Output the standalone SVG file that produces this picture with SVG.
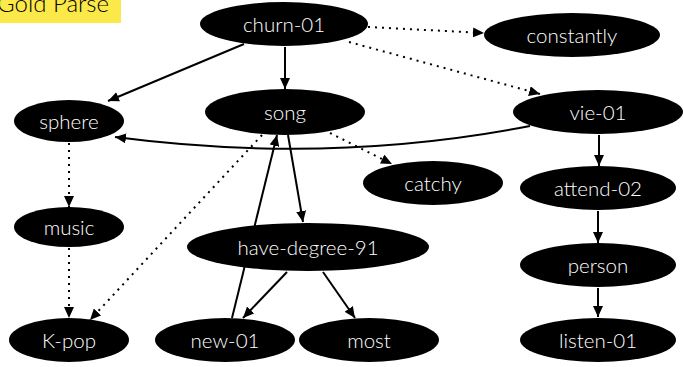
<svg xmlns="http://www.w3.org/2000/svg" width="684" height="367" viewBox="0 0 684 367">
<defs>
<marker id="ah" markerUnits="userSpaceOnUse" markerWidth="12" markerHeight="10" refX="11" refY="5" orient="auto">
<path d="M0,0 L11,5 L0,10 z" fill="#000"/>
</marker>
<style>
.n ellipse{fill:#000}
.n text{fill:#fff;font-family:Lato,"Open Sans",sans-serif;font-weight:300;font-size:20.5px;text-anchor:middle;dominant-baseline:central}
.e path{fill:none;stroke:#000;stroke-width:2;marker-end:url(#ah)}
.e .d{stroke-dasharray:2 5}
</style>
</defs>
<rect x="0" y="0" width="121" height="23" fill="#fbe94a"/>
<text x="-3" y="12" font-family="Lato,sans-serif" font-weight="300" font-size="24" fill="#000">Gold Parse</text>
<g class="e" id="connectors">
<path d="M244,44 L108,101"/>
<path d="M285,47 L285,89"/>
<path class="d" d="M368,27 L484,33"/>
<path class="d" d="M349,42 L540,94"/>
<path d="M530,126 Q330,165 115,137"/>
<path class="d" d="M330,133 L392,164"/>
<path class="d" d="M262,135 L90,320"/>
<path d="M288,135 L303,222"/>
<path d="M232,318 L277,135"/>
<path d="M287,272 L243,318"/>
<path d="M323,272 L355,318"/>
<path class="d" d="M69,143 L69,207"/>
<path class="d" d="M69,248 L69,318"/>
<path d="M599,135 L599,166"/>
<path d="M598,211 L598,243"/>
<path d="M598,288 L598,317"/>
</g>
<g class="n" id="churn-01"><ellipse cx="284" cy="24" rx="84" ry="22"/><text x="284" y="24">churn-01</text></g>
<g class="n" id="constantly"><ellipse cx="572" cy="35" rx="88" ry="22"/><text x="572" y="35">constantly</text></g>
<g class="n" id="song"><ellipse cx="285" cy="112" rx="80" ry="23"/><text x="285" y="112">song</text></g>
<g class="n" id="sphere"><ellipse cx="69" cy="121" rx="55" ry="21"/><text x="69" y="121">sphere</text></g>
<g class="n" id="vie-01"><ellipse cx="598" cy="112" rx="85" ry="22"/><text x="598" y="112">vie-01</text></g>
<g class="n" id="catchy"><ellipse cx="433" cy="183" rx="70" ry="22"/><text x="433" y="183">catchy</text></g>
<g class="n" id="attend-02"><ellipse cx="598" cy="188" rx="78" ry="22"/><text x="598" y="188">attend-02</text></g>
<g class="n" id="music"><ellipse cx="69" cy="227" rx="55" ry="20"/><text x="69" y="227">music</text></g>
<g class="n" id="have-degree-91"><ellipse cx="308" cy="247" rx="121" ry="24"/><text x="308" y="247">have-degree-91</text></g>
<g class="n" id="person"><ellipse cx="598" cy="265" rx="78" ry="22"/><text x="598" y="265">person</text></g>
<g class="n" id="K-pop"><ellipse cx="69" cy="340" rx="60" ry="22"/><text x="69" y="340">K-pop</text></g>
<g class="n" id="new-01"><ellipse cx="225" cy="340" rx="70" ry="22"/><text x="225" y="340">new-01</text></g>
<g class="n" id="most"><ellipse cx="369" cy="340" rx="70" ry="22"/><text x="369" y="340">most</text></g>
<g class="n" id="listen-01"><ellipse cx="598" cy="340" rx="78" ry="22"/><text x="598" y="340">listen-01</text></g>
</svg>
